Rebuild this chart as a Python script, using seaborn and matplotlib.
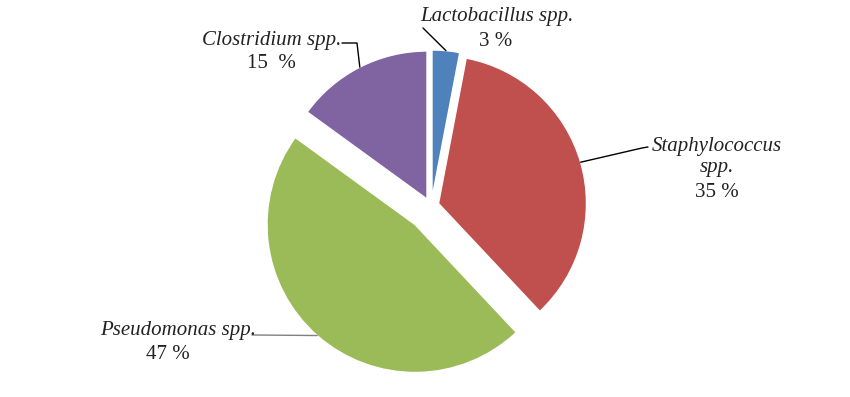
import numpy as np
import matplotlib
matplotlib.use("Agg")
import matplotlib.pyplot as plt
import seaborn as sns

# Data
species = ["Lactobacillus spp.", "Staphylococcus\nspp.", "Pseudomonas spp.", "Clostridium spp."]
shares = [3, 35, 47, 15]
pct_labels = ["3 %", "35 %", "47 %", "15  %"]
colors = ["#4F81BD", "#C0504D", "#9BBB59", "#8064A2"]
# how far each slice is pulled out of the pie, in pixels (dx, dy down)
pull_px = [(5, -1), (11.5, 4.5), (-12, 25.5), (0, 0)]

# label layout in pixels (x, y from top)
name_pos = [(497, 17), (717, 157), (178, 330), (272, 40)]
pct_pos = [(496, 42), (717, 193), (168, 355), (271, 63)]
lead_from = [[(423, 28)], [(648, 147), (642, 148)], [(252, 335)], [(342, 43), (357, 43)]]
lead_colors = ["black", "black", "#808080", "black"]

CX, CY, R = 427, 199, 148  # pie centre and radius in pixels
W, H = 850, 397


def to_xy(px, py):
    return (px - CX) / R, (CY - py) / R


sns.set_theme(style="white")
plt.rcParams["font.family"] = ["Liberation Serif", "DejaVu Serif"]

fig = plt.figure(figsize=(W / 100, H / 100), dpi=100)
ax = fig.add_axes([0, 0, 1, 1])
wedges, _ = ax.pie(shares, colors=sns.color_palette(colors), startangle=90,
                   counterclock=False, radius=1.0,
                   wedgeprops=dict(edgecolor="white", linewidth=1))

for i, w in enumerate(wedges):
    dx, dy = pull_px[i]
    w.set_center((dx / R, -dy / R))
    mid = np.deg2rad((w.theta1 + w.theta2) / 2)
    anchor = (w.center[0] + w.r * np.cos(mid), w.center[1] + w.r * np.sin(mid))
    pts = [to_xy(*p) for p in lead_from[i]] + [anchor]
    xs, ys = zip(*pts)
    ax.plot(xs, ys, color=lead_colors[i], lw=1)

    nx, ny = to_xy(*name_pos[i])
    ax.text(nx, ny, species[i], ha="center", va="center", fontsize=15,
            style="italic", color="#222222", linespacing=1.2)
    px, py = to_xy(*pct_pos[i])
    ax.text(px, py, pct_labels[i], ha="center", va="center", fontsize=15,
            color="#222222")

ax.set_xlim((0 - CX) / R, (W - CX) / R)
ax.set_ylim((CY - H) / R, CY / R)
ax.set_aspect("auto")
ax.axis("off")

fig.savefig("out.png", dpi=100, facecolor="white")
